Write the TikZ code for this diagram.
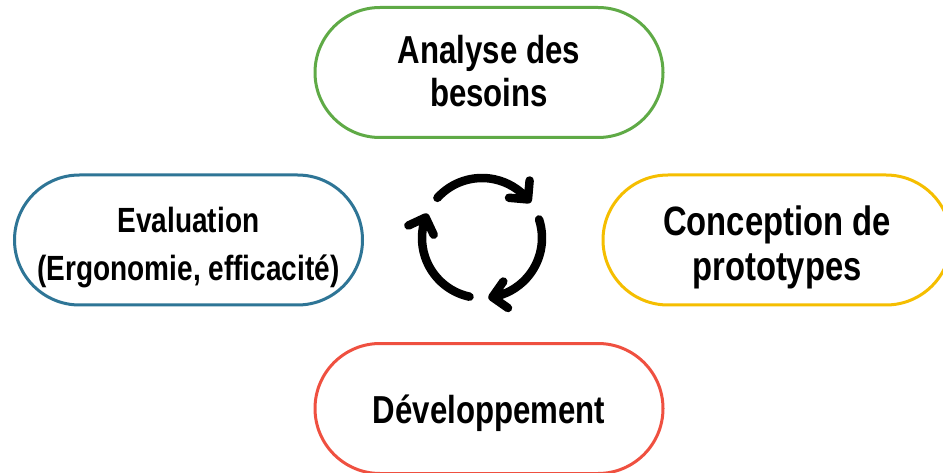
\documentclass[tikz,border=0pt]{standalone}
\usepackage{fontspec}
\setmainfont{Liberation Sans}[FakeStretch=0.8]
\definecolor{cgreen}{HTML}{5FAA46}
\definecolor{cblue}{HTML}{2E7596}
\definecolor{cyellow}{HTML}{F5BE00}
\definecolor{cred}{HTML}{EF5040}
\begin{document}
\begin{tikzpicture}[x=1pt,y=-1pt,
  phase/.style={draw, line width=3pt, rounded corners=65pt, minimum width=348pt,
    minimum height=130pt, inner sep=0pt, align=center, fill=white, text depth=0pt},
  cyc/.style={line width=8.5pt, line cap=round, line join=round, black}]
\useasboundingbox (0,0) rectangle (943,473);
\clip (0,0) rectangle (943,473);
\node[phase, draw=cgreen, text height=69pt, font=\fontsize{39}{43}\selectfont\bfseries] (analyse) at (489,72.5) {Analyse des\\besoins};
\node[phase, draw=cblue, text height=80pt, font=\fontsize{35}{48}\selectfont\bfseries] (eval) at (188.5,240) {Evaluation\\(Ergonomie, efficacité)};
\node[phase, draw=cyellow, text height=82pt, font=\fontsize{41}{45}\selectfont\bfseries] (concep) at (777,240) {Conception de\\prototypes};
\node[phase, draw=cred, text height=29pt, font=\fontsize{39}{43}\selectfont\bfseries] (dev) at (489,408.5) {Développement};
\begin{scope}[shift={(482,238)}, y=1pt]
  \draw[cyc] (138:60) arc[start angle=138, end angle=40, radius=60] -- ++(85:19) (40:60) -- ++(175:19);
  \draw[cyc] (18:60) arc[start angle=18, end angle=-80, radius=60] -- ++(-35:19) (-80:60) -- ++(55:19);
  \draw[cyc] (-102:60) arc[start angle=-102, end angle=-200, radius=60] -- ++(-155:19) (-200:60) -- ++(-65:19);
\end{scope}
\end{tikzpicture}
\end{document}
